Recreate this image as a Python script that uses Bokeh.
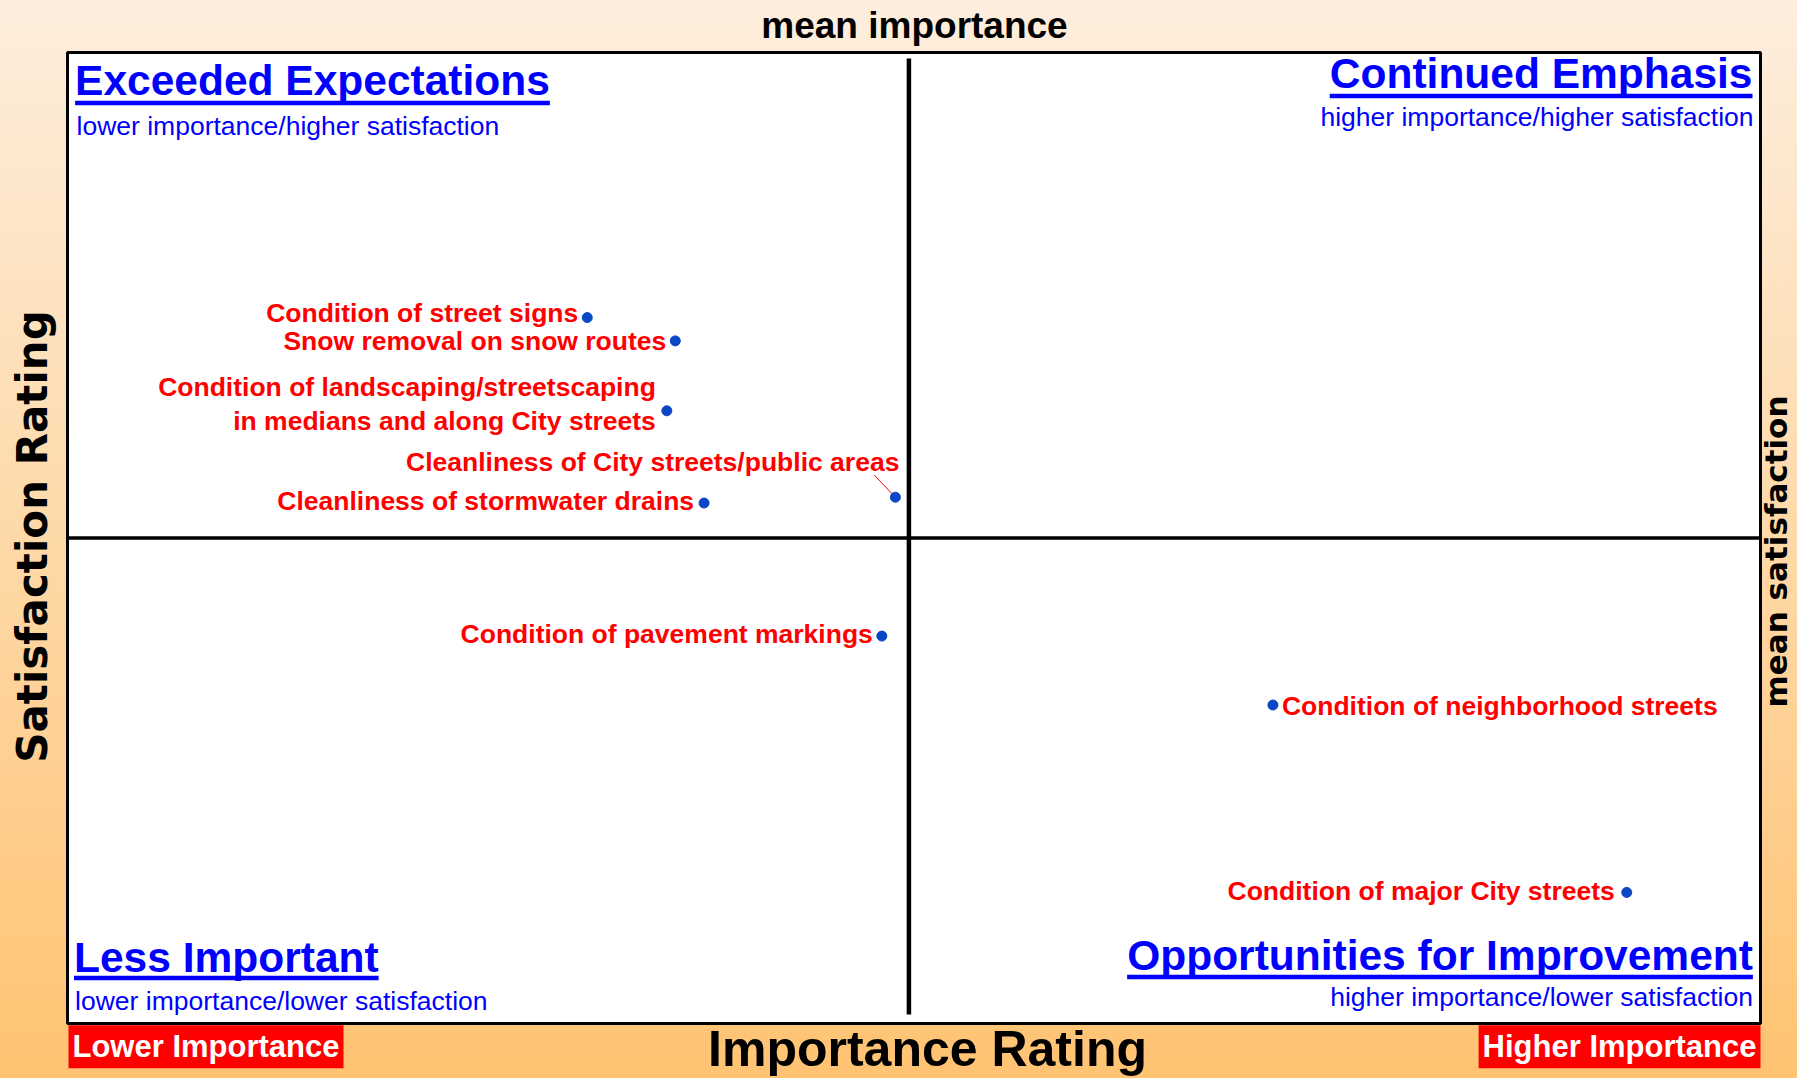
import math
from bokeh.plotting import figure
from bokeh.models import ColumnDataSource, Label, Range1d, CDSView, IndexFilter
from bokeh.core.properties import value
from bokeh.embed import file_html
from bokeh.resources import INLINE

# ---------------- data ----------------
items = [
    "Condition of street signs",
    "Snow removal on snow routes",
    "Condition of landscaping/streetscaping\nin medians and along City streets",
    "Cleanliness of City streets/public areas",
    "Cleanliness of stormwater drains",
    "Condition of pavement markings",
    "Condition of neighborhood streets",
    "Condition of major City streets",
]
importance = [30.7, 35.9, 35.4, 48.9, 37.6, 48.1, 71.2, 92.1]
satisfaction = [72.7, 70.3, 63.1, 54.2, 53.6, 39.9, 32.8, 13.5]
mean_importance = 49.7
mean_satisfaction = 50.0

quadrant_titles = ["Exceeded Expectations", "Continued Emphasis",
                   "Less Important", "Opportunities for Improvement"]
quadrant_subtitles = ["lower importance/higher satisfaction",
                      "higher importance/higher satisfaction",
                      "lower importance/lower satisfaction",
                      "higher importance/lower satisfaction"]

# ---------------- label placement (pixels) ----------------
label_dx = [-9, -9, -11, 4, -10, -9, 9, -12]
label_dy = [-5, 0, -7, -35, -2, -2, 1, -1]
label_side = ["left", "left", "left", "left", "left", "left", "right", "left"]

# ---------------- layout ----------------
W, H = 1797, 1078
BL, BR, BT, BB = 67, 1760, 52, 1023      # matrix box edges (px)
BW, BH = BR - BL, BB - BT

def X(sx):   # px -> data x
    return (sx - BL) / BW * 100.0

def Y(sy):   # px -> data y
    return (BB - sy) / BH * 100.0

p = figure(width=W, height=H, x_range=Range1d(X(0), X(W)), y_range=Range1d(Y(H), Y(0)),
           x_axis_type=None, y_axis_type=None, toolbar_location=None,
           output_backend="svg", title=None, min_border=0)
p.min_border_left = p.min_border_right = p.min_border_top = p.min_border_bottom = 0
p.background_fill_color = None
p.border_fill_color = None
p.outline_line_color = None
p.styles = {"background": "linear-gradient(180deg, #FDEEDE 0%, #FED9A8 50%, #FFC372 100%)"}

ARIAL = "Liberation Sans"
WIDE = "DejaVu Sans"

# white matrix box
p.quad(left=[0], right=[100], bottom=[0], top=[100], fill_color="white",
       line_color="black", line_width=3)

# quadrant dividers
p.segment(x0=[0], x1=[100], y0=[mean_satisfaction], y1=[mean_satisfaction],
          line_color="black", line_width=3.5)
p.segment(x0=[mean_importance], x1=[mean_importance], y0=[Y(1014)], y1=[Y(58)],
          line_color="black", line_width=4.5)

def lab(text, x, y, size, align="center", font=ARIAL, style="bold", color="black",
        angle=0, **kw):
    lb = Label(x=x, y=y, text=text, text_font=font, text_font_size=f"{size}px",
               text_font_style=style, text_color=color, text_align=align,
               text_baseline="middle", angle=angle, **kw)
    p.add_layout(lb)
    return lb

# axis-like texts (y given as text middle)
lab("mean importance", X(914), Y(38 - 0.35 * 37), 37)
lab("Importance Rating", X(927), Y(1048), 50)
lab("Satisfaction Rating", X(47 - 0.346 * 42), Y(536), 42, font=WIDE, angle=math.pi / 2)
lab("mean satisfaction", X(1786 - 0.346 * 31), Y(551), 31, font=WIDE, angle=math.pi / 2)

lab("Lower Importance", X(68), Y(1057 - 0.35 * 31), 31, align="left", color="white",
    background_fill_color="#FF0000", padding=4)
lab("Higher Importance", X(1760), Y(1057 - 0.35 * 31), 31, align="right", color="white",
    background_fill_color="#FF0000", padding=4)

# quadrant titles (underlined) and subtitles
BLUE = "#0000FF"
TS = 42.5
SS = 26.5
title_em = [11.171, 9.946, 7.168, 14.724]
title_pos = [(74.6, 95, "left"), (1752, 88, "right"), (73.5, 971.7, "left"), (1752.4, 970, "right")]
under_y = [102.5, 95.5, 977.5, 976.5]
sub_pos = [(76, 135, "left"), (1753, 126, "right"), (74.6, 1010, "left"), (1752.4, 1006, "right")]

ux0, ux1, uy = [], [], []
for i in range(4):
    sx, sy, al = title_pos[i]
    lab(quadrant_titles[i], X(sx), Y(sy - 0.35 * TS), TS, align=al, color=BLUE)
    wpx = title_em[i] * TS
    if al == "left":
        ux0.append(X(sx)); ux1.append(X(sx + wpx))
    else:
        ux0.append(X(sx - wpx)); ux1.append(X(sx))
    uy.append(Y(under_y[i]))
    bx, by, bal = sub_pos[i]
    lab(quadrant_subtitles[i], X(bx), Y(by - 0.35 * SS), SS, align=bal, style="normal", color=BLUE)
p.segment(x0=ux0, x1=ux1, y0=uy, y1=uy, line_color=BLUE, line_width=4.5)

# data labels
src = ColumnDataSource(dict(x=importance, y=satisfaction, label=items,
                            dx=label_dx, dy=label_dy))
left_idx = [i for i, s in enumerate(label_side) if s == "left"]
right_idx = [i for i, s in enumerate(label_side) if s == "right"]
common = dict(x="x", y="y", text="label", x_offset="dx", y_offset="dy", source=src,
              text_baseline="middle", text_font=value(ARIAL), text_font_style="bold",
              text_font_size="26.5px", text_color="#FF0000", text_line_height=1.13)
p.text(view=CDSView(filter=IndexFilter(left_idx)), text_align="right", **common)
p.text(view=CDSView(filter=IndexFilter(right_idx)), text_align="left", **common)

# leader line for the crowded label
k = 3
p.segment(x0=[importance[k] - 21 * 100.0 / BW], y0=[satisfaction[k] + 22 * 100.0 / BH],
          x1=[importance[k]], y1=[satisfaction[k]], line_color="#FF0000", line_width=1)

p.scatter(x="x", y="y", source=src, size=10, fill_color="#0B47C4", line_color="#0B47C4")

open("out.html", "w").write(file_html(p, INLINE))
